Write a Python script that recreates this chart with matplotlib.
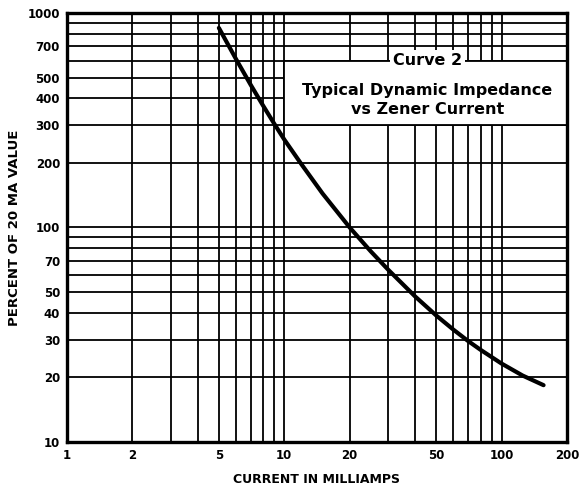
import matplotlib
matplotlib.use("Agg")
import matplotlib.pyplot as plt
from matplotlib.patches import Rectangle

# curve (mA, percent of 20 mA value)
current_ma = [5, 6, 7, 8, 9, 10, 12, 15, 20, 25, 30, 40, 50, 60, 70, 80, 100, 125, 156]
percent = [852, 609, 463, 369, 304, 257, 197, 144, 100, 77.4, 63.7, 47.7, 38.9,
           33.4, 29.6, 26.9, 23.2, 20.4, 18.4]

x_ticks = [1, 2, 5, 10, 20, 50, 100, 200]
y_ticks = [10, 20, 30, 40, 50, 70, 100, 200, 300, 400, 500, 700, 1000]
x_grid = [1, 2, 3, 4, 5, 6, 7, 8, 9, 10, 20, 30, 40, 50, 60, 70, 80, 90, 100, 200]
y_grid = [10, 20, 30, 40, 50, 60, 70, 80, 90, 100, 200, 300, 400, 500, 600, 700, 800, 900, 1000]

fig = plt.figure(figsize=(5.81, 4.90), dpi=100)
ax = fig.add_axes([0.1153, 0.098, 0.8606, 0.8755])
ax.set_xscale("log")
ax.set_yscale("log")
ax.set_xlim(1, 200)
ax.set_ylim(10, 1000)

for gx in x_grid:
    ax.axvline(gx, color="black", lw=1.3, zorder=1)
for gy in y_grid:
    ax.axhline(gy, color="black", lw=1.3, zorder=1)

# white label box over the grid
ax.add_patch(Rectangle((10, 300), 190, 300, facecolor="white", edgecolor="black",
                       lw=1.3, zorder=2))
ax.text(45.6, 600, "Curve 2", ha="center", va="center", fontsize=11.5, fontweight="bold",
        zorder=3, bbox=dict(facecolor="white", edgecolor="none", pad=2))
ax.text(45.6, 437, "Typical Dynamic Impedance", ha="center", va="center",
        fontsize=11.5, fontweight="bold", zorder=3)
ax.text(45.6, 353, "vs Zener Current", ha="center", va="center",
        fontsize=11.5, fontweight="bold", zorder=3)

ax.plot(current_ma, percent, color="black", lw=3, solid_capstyle="round",
        solid_joinstyle="round", zorder=4)

ax.set_xticks(x_ticks)
ax.set_xticklabels([str(v) for v in x_ticks])
ax.set_yticks(y_ticks)
ax.set_yticklabels([str(v) for v in y_ticks])
ax.minorticks_off()
ax.tick_params(length=0, pad=5, labelsize=8.5)
for lbl in ax.get_xticklabels() + ax.get_yticklabels():
    lbl.set_fontweight("bold")

for sp in ax.spines.values():
    sp.set_linewidth(2.4)
    sp.set_zorder(5)

ax.set_xlabel("CURRENT IN MILLIAMPS", fontsize=9, fontweight="bold", labelpad=8)
ax.set_ylabel("PERCENT OF 20 MA VALUE", fontsize=9.5, fontweight="bold", labelpad=5)

fig.savefig("out.png", dpi=100)
